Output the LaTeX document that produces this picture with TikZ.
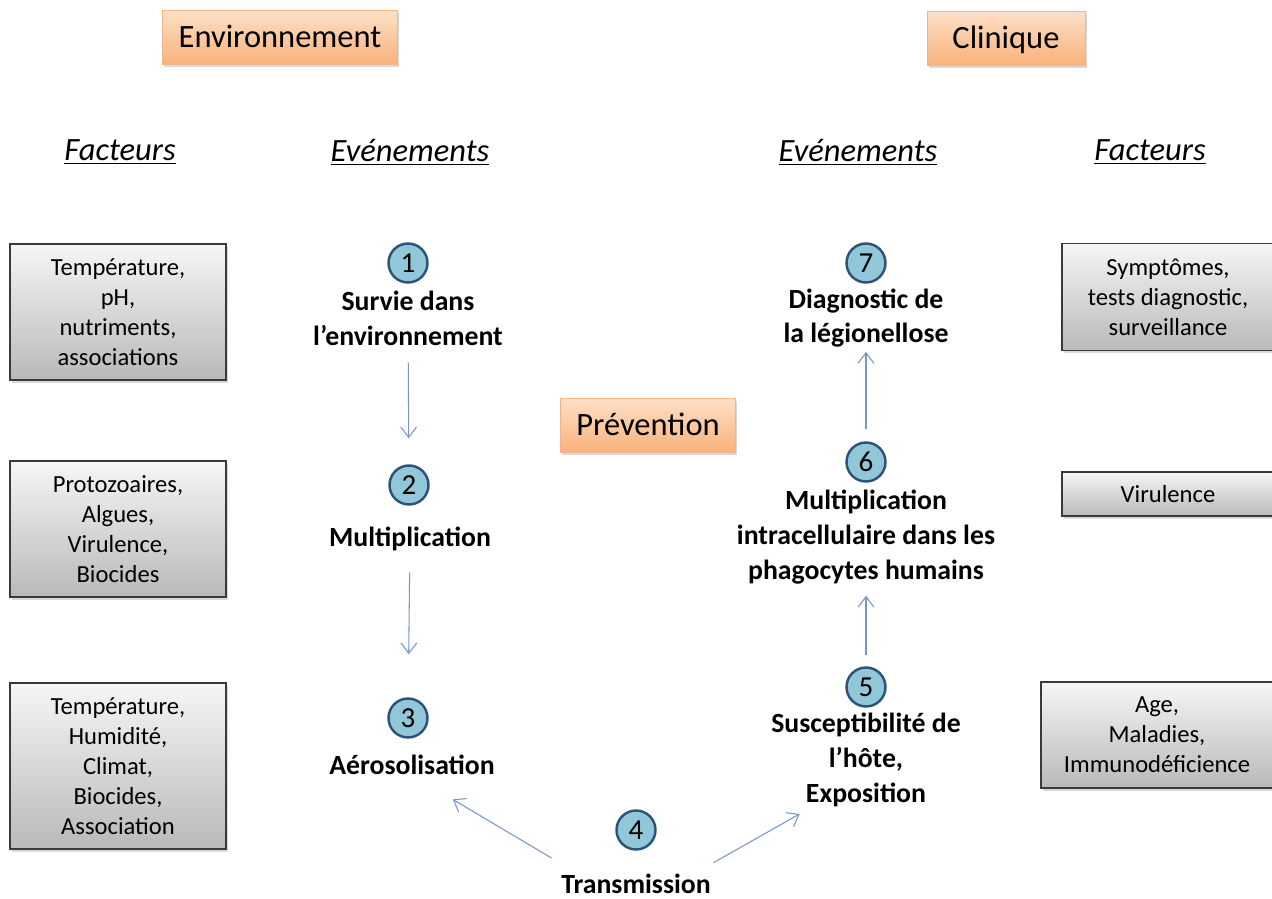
\documentclass[tikz,border=0pt]{standalone}
\usepackage{fontspec}
\setmainfont{Carlito}
\usetikzlibrary{shadows,arrows.meta}

\definecolor{headtop}{HTML}{FDE0C7}
\definecolor{headbot}{HTML}{F9B27C}
\definecolor{headline}{HTML}{F2B48A}
\definecolor{factop}{HTML}{F6F6F6}
\definecolor{facbot}{HTML}{B9B9B9}
\definecolor{facline}{HTML}{3A3A3A}
\definecolor{numfill}{HTML}{92C7D9}
\definecolor{numline}{HTML}{2D5478}
\definecolor{flowcol}{HTML}{7896C6}

\begin{document}
\begin{tikzpicture}[x=0.02cm, y=-0.02cm,
  head/.style={draw=headline, top color=headtop, bottom color=headbot,
    minimum height=1.08cm, inner sep=0pt, text height=13pt, text depth=1pt,
    font=\fontsize{18.5}{22}\selectfont,
    drop shadow={shadow xshift=1pt, shadow yshift=-1.5pt, opacity=0.3}},
  fac/.style={draw=facline, line width=0.9pt, top color=factop, bottom color=facbot,
    align=center, inner sep=0pt, font=\fontsize{14}{17}\selectfont,
    drop shadow={shadow xshift=1pt, shadow yshift=-1.5pt, opacity=0.3}},
  col/.style={font=\itshape\fontsize{18.5}{22}\selectfont},
  num/.style={circle, draw=numline, line width=1.4pt, fill=numfill,
    minimum size=0.78cm, inner sep=0pt, font=\fontsize{16.5}{18}\selectfont},
  evt/.style={align=center, inner sep=0pt, font=\bfseries\fontsize{15.8}{19.8}\selectfont},
  flow/.style={-{Straight Barb[length=6pt, width=9pt]}, draw=flowcol, line width=0.6pt}]
  \useasboundingbox (0,0) rectangle (1272,899);

  \node[head, minimum width=4.7cm] (env) at (280,37) {Environnement};
  \node[head, minimum width=3.16cm] (clin) at (1006,38) {Clinique};
  \node[head, minimum width=3.5cm] (prev) at (648,425) {Prévention};

  \node[col] (facl) at (120,152) {\underline{Facteurs}};
  \node[col] (evl) at (410,152) {\underline{Evénements}};
  \node[col] (evr) at (858,152) {\underline{Evénements}};
  \node[col] (facr) at (1150,152) {\underline{Facteurs}};

  \node[fac, minimum width=4.32cm, minimum height=2.72cm] (fl1) at (118,312)
    {Température,\\pH,\\nutriments,\\associations};
  \node[fac, minimum width=4.32cm, minimum height=2.72cm] (fl2) at (118,529)
    {Protozoaires,\\Algues,\\Virulence,\\Biocides};
  \node[fac, minimum width=4.32cm, minimum height=3.32cm] (fl3) at (118,766)
    {Température,\\Humidité,\\Climat,\\Biocides,\\Association};
  \node[fac, minimum width=4.24cm, minimum height=2.14cm] (fr1) at (1168,297)
    {Symptômes,\\tests diagnostic,\\surveillance};
  \node[fac, minimum width=4.24cm, minimum height=0.88cm] (fr2) at (1168,494)
    {Virulence};
  \node[fac, minimum width=4.64cm, minimum height=2.12cm] (fr3) at (1157,735)
    {Age,\\Maladies,\\Immunodéficience};

  \node[num] (c1) at (408,263) {1};
  \node[num] (c2) at (409,485) {2};
  \node[num] (c3) at (408,718) {3};
  \node[num] (c4) at (636,830) {4};
  \node[num] (c5) at (866,687) {5};
  \node[num] (c6) at (866,462) {6};
  \node[num] (c7) at (866,263) {7};

  \node[evt] (surv) at (408,318) {Survie dans\\l’environnement};
  \node[evt] (mult) at (410,539) {Multiplication};
  \node[evt] (aero) at (412,765) {Aérosolisation};
  \node[evt] (trans) at (636,884) {Transmission};
  \node[evt] (susc) at (866,760) {Susceptibilité de\\l’hôte,\\Exposition};
  \node[evt] (intra) at (866,537) {Multiplication\\intracellulaire dans les\\phagocytes humains};
  \node[evt] (diag) at (866,318) {Diagnostic de\\la légionellose};

  \draw[flow, shorten <=0.34cm, shorten >=0.52cm] (surv) to (c2);
  \draw[flow, shorten <=0.42cm, shorten >=0.86cm] (mult) to (c3);
  \draw[flow, shorten <=0.62cm, shorten >=0.95cm] (trans.170) to (aero.south);
  \draw[flow, shorten <=0.45cm, shorten >=0.28cm] (trans.10) to (susc.221);
  \draw[flow, shorten <=0.22cm, shorten >=0.23cm] (c5) to (intra);
  \draw[flow, shorten <=0.24cm, shorten >=0.08cm] (c6) to (diag);
\end{tikzpicture}
\end{document}
